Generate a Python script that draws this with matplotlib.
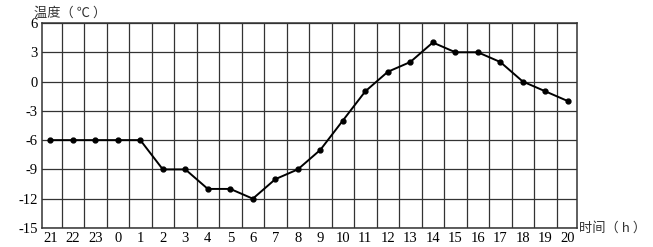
import matplotlib.pyplot as plt
import numpy as np

plt.rcParams['font.family'] = ['Liberation Serif', 'Noto Sans CJK SC']
plt.rcParams['axes.unicode_minus'] = False

# -----------------------------
# DATA
# -----------------------------
hours = ["21", "22", "23", "0", "1", "2", "3", "4", "5", "6", "7", "8",
         "9", "10", "11", "12", "13", "14", "15", "16", "17", "18", "19", "20"]
temps = [-6, -6, -6, -6, -6, -9, -9, -11, -11, -12, -10, -9,
         -7, -4, -1, 1, 2, 4, 3, 3, 2, 0, -1, -2]
y_ticks = [6, 3, 0, -3, -6, -9, -12, -15]

GRID_COLOR = "#333333"

fig = plt.figure(figsize=(6.53, 2.47), dpi=100)
ax = fig.add_axes([0.064, 0.077, 0.82, 0.83])

x = np.arange(len(hours))
ax.plot(x, temps, color="black", linewidth=1.4, marker="o", markersize=3.5,
        zorder=3)

ax.set_xlim(-0.38, len(hours) - 0.58)
ax.set_ylim(-15, 6)

# grid: verticals sit between the hour positions
for gx in np.arange(0.5, len(hours) - 0.5, 1.0):
    ax.axvline(gx, color=GRID_COLOR, linewidth=0.9, zorder=1)
for gy in y_ticks:
    ax.axhline(gy, color=GRID_COLOR, linewidth=0.9, zorder=1)

ax.set_xticks(x)
ax.set_xticklabels(hours, fontsize=10.5)
ax.set_yticks(y_ticks)
ax.set_yticklabels([str(v) for v in y_ticks], fontsize=10.5)
ax.tick_params(length=0, pad=3)

for s in ax.spines.values():
    s.set_color(GRID_COLOR)
    s.set_linewidth(1.1)

fig.text(0.052, 0.945, "温度（ ℃ ）", fontsize=9.5, ha="left", va="center",
         family=["Noto Sans CJK SC", "DejaVu Sans"], color="#333333")
fig.text(0.886, 0.077, "时间（ h ）", fontsize=9.5, ha="left", va="center",
         family=["Noto Sans CJK SC", "DejaVu Sans"], color="#333333")

fig.savefig("out.png", dpi=100)
